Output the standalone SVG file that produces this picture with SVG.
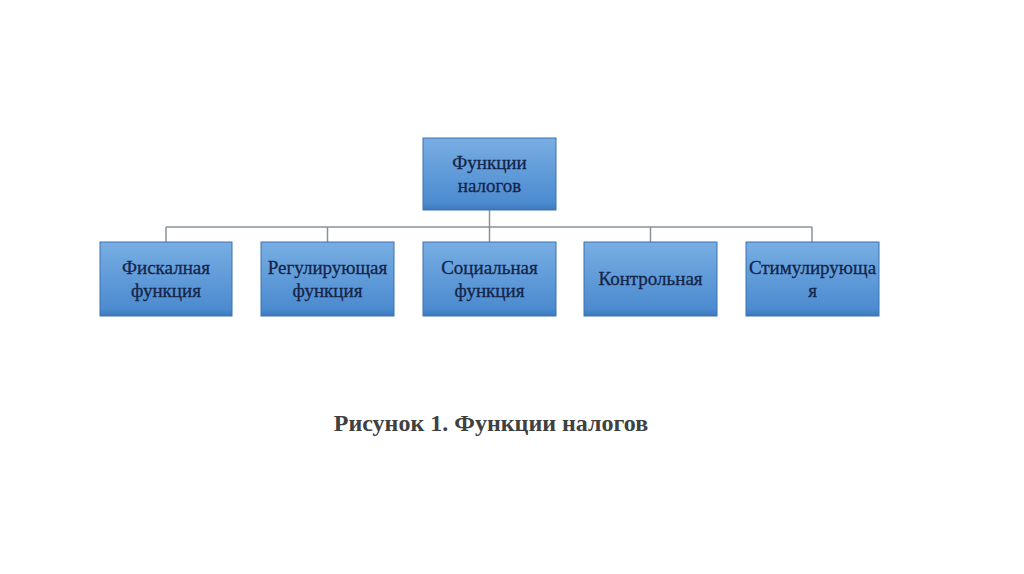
<svg xmlns="http://www.w3.org/2000/svg" width="1024" height="574" viewBox="0 0 1024 574">
<defs>
<linearGradient id="g" x1="0" y1="0" x2="0" y2="1">
<stop offset="0" stop-color="#78aee3"/>
<stop offset="0.9" stop-color="#4c8bd0"/>
<stop offset="1" stop-color="#3f78bb"/>
</linearGradient>
<style>
.box{fill:url(#g);stroke:#3d73b0;stroke-width:1}
.t{font-family:"Liberation Serif",serif;font-size:19px;fill:#14254a;text-anchor:middle;stroke:#14254a;stroke-width:0.3}
.c{stroke:#8a9299;stroke-width:1.5;fill:none}
</style>
</defs>
<rect width="1024" height="574" fill="#ffffff"/>
<g id="connectors">
<path class="c" d="M489.5 210V242M166 227H812M166 227V242M327.5 227V242M650.5 227V242M812 227V242"/>
</g>
<g id="root"><rect class="box" x="423" y="138" width="133" height="72"/><text class="t" x="489.5" y="169">Функции</text><text class="t" x="489.5" y="192">налогов</text></g>
<g id="n1"><rect class="box" x="100" y="242" width="132" height="74"/><text class="t" x="166" y="274">Фискалная</text><text class="t" x="166" y="297">функция</text></g>
<g id="n2"><rect class="box" x="261" y="242" width="133" height="74"/><text class="t" x="327.5" y="274">Регулирующая</text><text class="t" x="327.5" y="297">функция</text></g>
<g id="n3"><rect class="box" x="423" y="242" width="133" height="74"/><text class="t" x="489.5" y="274">Социальная</text><text class="t" x="489.5" y="297">функция</text></g>
<g id="n4"><rect class="box" x="584" y="242" width="133" height="74"/><text class="t" x="650.5" y="285">Контрольная</text></g>
<g id="n5"><rect class="box" x="746" y="242" width="133" height="74"/><text class="t" x="812.5" y="274">Стимулирующа</text><text class="t" x="812.5" y="297">я</text></g>
<text x="491" y="431" font-family="Liberation Serif,serif" font-size="24" font-weight="bold" fill="#404040" text-anchor="middle">Рисунок 1. Функции налогов</text>
</svg>
